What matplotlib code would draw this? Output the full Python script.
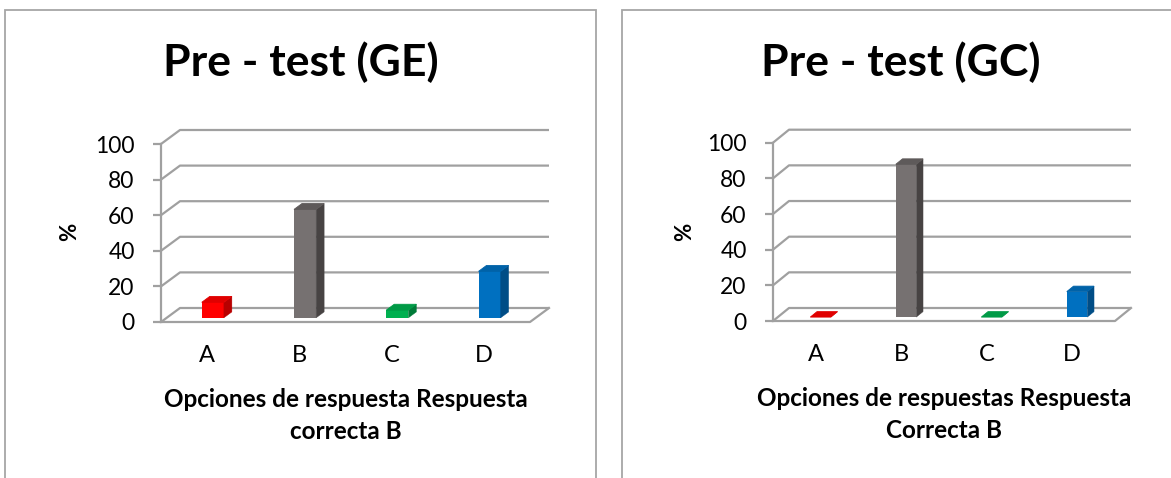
import matplotlib
matplotlib.use("Agg")
import matplotlib.pyplot as plt
from matplotlib.patches import Polygon, Rectangle

plt.rcParams['font.family'] = ['Lato', 'DejaVu Sans']

# ---- data ----
categories = ["A", "B", "C", "D"]
ge_values = [8.7, 60.9, 4.3, 26.1]
gc_values = [0.0, 85.7, 0.0, 14.3]
y_ticks = [0, 20, 40, 60, 80, 100]
title_ge = "Pre - test (GE)"
title_gc = "Pre - test (GC)"
xlabel_ge = "Opciones de respuesta Respuesta\ncorrecta B"
xlabel_gc = "Opciones de respuestas Respuesta\nCorrecta B"
ylabel = "%"

# front / side / top shades for each bar
bar_colors = [
    ("#FF0000", "#B80000", "#E00000"),
    ("#767171", "#474343", "#5E5A5A"),
    ("#00B050", "#007A38", "#009A46"),
    ("#0070C0", "#004D86", "#0062A8"),
]

W, H = 1171, 478
fig = plt.figure(figsize=(W / 100, H / 100), dpi=100)
fig.patch.set_facecolor("white")

GRID = "#A0A0A0"


def px_rect(x0, x1, ytop, ybot):
    return [x0 / W, 1 - ybot / H, (x1 - x0) / W, (ybot - ytop) / H]


def draw_panel(ax, values, depth_px, x0, x1, y0px, y100px):
    n = len(values)
    ax.set_xlim(0, n)
    ax.set_ylim(0, 100)
    cat_px = (x1 - x0) / n
    val_px = (y0px - y100px) / 100.0
    ddx = depth_px[0] / cat_px      # depth offset in category units
    ddy = depth_px[1] / val_px      # depth offset in value units (upwards)

    # back wall gridlines + side wall diagonals, floor
    for v in y_ticks:
        ax.plot([0, ddx, n + ddx], [v, v + ddy, v + ddy], color=GRID,
                lw=1.6, clip_on=False, zorder=1, solid_capstyle="butt")
    ax.plot([0, n, n + ddx], [0, 0, ddy], color=GRID, lw=1.6,
            clip_on=False, zorder=1)

    # 3D bars
    f0, f1 = 0.30, 0.72
    w = 0.24
    for i, v in enumerate(values):
        front, side, top = bar_colors[i]
        cx = i + 0.5 + f0 * ddx
        b = f0 * ddy
        d = f1 - f0
        ax.bar(cx, v, width=w, bottom=b, color=front, zorder=3,
               clip_on=False, linewidth=0)
        xr = cx + w / 2
        xl = cx - w / 2
        ax.add_patch(Polygon([(xr, b), (xr + d * ddx, b + d * ddy),
                              (xr + d * ddx, b + v + d * ddy), (xr, b + v)],
                             closed=True, facecolor=side, edgecolor=side,
                             lw=0.3, zorder=3, clip_on=False))
        ax.add_patch(Polygon([(xl, b + v), (xr, b + v),
                              (xr + d * ddx, b + v + d * ddy),
                              (xl + d * ddx, b + v + d * ddy)],
                             closed=True, facecolor=top, edgecolor=top,
                             lw=0.6, zorder=3, clip_on=False))

    for s in ["top", "right", "bottom"]:
        ax.spines[s].set_visible(False)
    ax.spines["left"].set_color(GRID)
    ax.spines["left"].set_linewidth(1.6)
    ax.spines["left"].set_zorder(2)
    ax.set_facecolor("none")
    ax.set_yticks(y_ticks)
    ax.tick_params(axis="y", direction="out", length=6, width=1.6,
                   color=GRID, pad=13, labelsize=16.5)
    ax.set_xticks([i + 0.5 for i in range(n)])
    ax.set_xticklabels(categories)
    ax.tick_params(axis="x", length=0, pad=16.5, labelsize=17)


# panel frames
for x0, x1 in [(5, 595.5), (621.7, 1180)]:
    fig.patches.append(Rectangle((x0 / W, -0.05), (x1 - x0) / W,
                                 (1 - 10.5 / H) + 0.05,
                                 transform=fig.transFigure, fill=False,
                                 edgecolor="#A6A6A6", lw=1.3))

ax1 = fig.add_axes(px_rect(161, 530, 144, 322))
draw_panel(ax1, ge_values, (19, 14), 161, 530, 322, 144)
ax2 = fig.add_axes(px_rect(773, 1115, 142.7, 321))
draw_panel(ax2, gc_values, (16, 13), 773, 1115, 321, 142.7)

for ax, lab in [(ax1, xlabel_ge), (ax2, xlabel_gc)]:
    ax.set_xlabel(lab, fontsize=17.5, fontweight="bold", labelpad=16,
                  linespacing=1.45)

fig.text(301 / W, 1 - 62 / H, title_ge, fontsize=32, fontweight="bold",
         ha="center", va="center")
fig.text(901 / W, 1 - 62 / H, title_gc, fontsize=32, fontweight="bold",
         ha="center", va="center")
fig.text(70 / W, 1 - 232 / H, ylabel, fontsize=16, fontweight="bold",
         rotation=90, ha="center", va="center")
fig.text(685 / W, 1 - 232 / H, ylabel, fontsize=16, fontweight="bold",
         rotation=90, ha="center", va="center")

fig.savefig("out.png", dpi=100)
